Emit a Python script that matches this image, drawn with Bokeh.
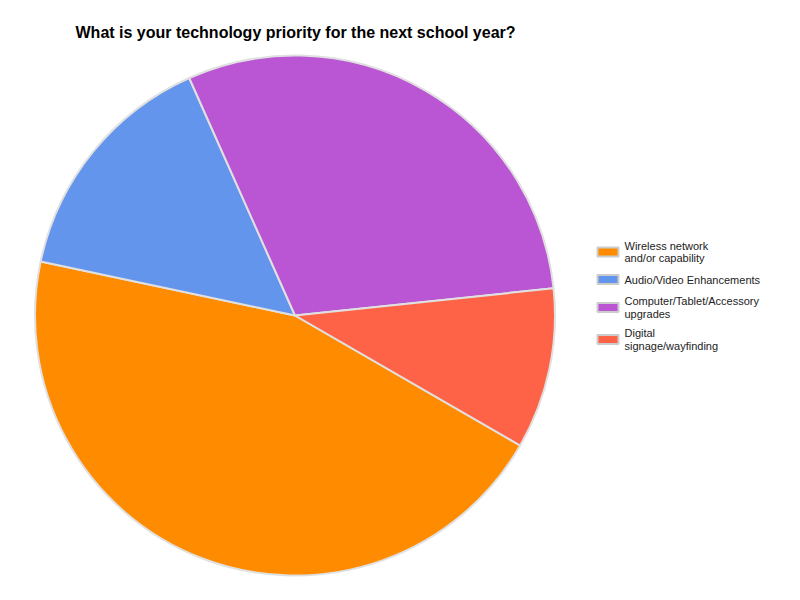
import math
from bokeh.plotting import figure
from bokeh.models import Range1d, ColumnDataSource
from bokeh.core.properties import value
from bokeh.embed import file_html
from bokeh.resources import INLINE

title = "What is your technology priority for the next school year?"
categories = ["Wireless network and/or capability", "Audio/Video Enhancements",
              "Computer/Tablet/Accessory upgrades", "Digital signage/wayfinding"]
legend_lines = [["Wireless network", "and/or capability"],
                ["Audio/Video Enhancements"],
                ["Computer/Tablet/Accessory", "upgrades"],
                ["Digital", "signage/wayfinding"]]
shares = [45, 15, 30, 10]
colors = ["#FF8C00", "#6495ED", "#BA55D3", "#FF6347"]

W, H = 784, 584
def px(x):  # screenshot x -> data x
    return x
def py(y):  # screenshot y -> data y
    return H - y

p = figure(width=W, height=H, output_backend="svg", toolbar_location=None,
           x_range=Range1d(0, W), y_range=Range1d(0, H), min_border=0)
p.axis.visible = False
p.grid.visible = False
p.outline_line_color = None
p.background_fill_color = "white"

# pie
total = sum(shares)
start0 = math.radians(-30)
starts, ends = [], []
cum = 0
for s in shares:
    a0 = start0 - 2 * math.pi * cum / total
    cum += s
    a1 = start0 - 2 * math.pi * cum / total
    starts.append(a1)
    ends.append(a0)
src = ColumnDataSource(dict(start=starts, end=ends, color=colors, cat=categories))
cx, cy = px(294.5), py(315)
p.wedge(x=cx, y=cy, radius=260, radius_units="screen", start_angle="start",
        end_angle="end", direction="anticlock", fill_color="color",
        line_color="#e0e0e0", line_width=2, source=src)

# title
p.text(x=[px(75)], y=[py(32)], text=[title], text_font=value("Liberation Sans"),
       text_font_style="bold", text_font_size="16px", text_color="#000000",
       text_baseline="alphabetic", text_align="left")

# legend
sw_y = [251.5, 279, 307, 339]
line_h = 12.5
for i, lines in enumerate(legend_lines):
    yc = sw_y[i]
    p.rect(x=[px(607.5)], y=[py(yc)], width=21, height=9, width_units="screen",
           height_units="screen", fill_color=colors[i], line_color="#cccccc",
           line_width=2)
    n = len(lines)
    ys = [py(yc - (n - 1) * line_h / 2 + k * line_h) for k in range(n)]
    p.text(x=[px(624)] * n, y=ys, text=lines, text_font=value("Liberation Sans"),
           text_font_size="11px", text_color="#222222", text_baseline="middle",
           text_align="left")

open("out.html", "w").write(file_html(p, INLINE))
